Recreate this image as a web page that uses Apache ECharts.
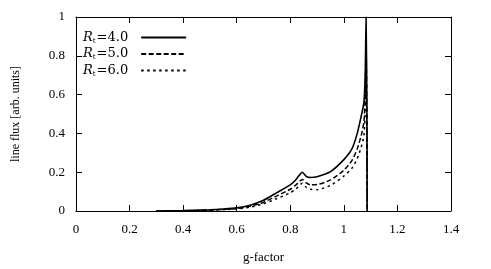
<!DOCTYPE html>
<html><head><meta charset="utf-8">
<script src="https://cdn.jsdelivr.net/npm/echarts@6/dist/echarts.min.js"></script>
<style>html,body{margin:0;padding:0;background:#fff}#c{width:491px;height:269px}</style>
</head><body><div id="c"></div>
<script>
const gFactor = [0.3, 0.4, 0.5, 0.55, 0.6, 0.65, 0.7, 0.75, 0.8, 0.82, 0.845, 0.86, 0.875, 0.9, 0.95, 1.0, 1.03, 1.05, 1.065, 1.075, 1.08, 1.083, 1.086, 1.087];
const fluxR4 = [0, 0.002, 0.006, 0.01, 0.016, 0.03, 0.055, 0.095, 0.135, 0.16, 0.2, 0.178, 0.173, 0.177, 0.203, 0.265, 0.32, 0.40, 0.49, 0.56, 0.72, 1.0, 0.5, 0];
const fluxR5 = [0, 0.0015, 0.005, 0.008, 0.013, 0.024, 0.045, 0.078, 0.112, 0.133, 0.163, 0.145, 0.135, 0.136, 0.16, 0.21, 0.26, 0.32, 0.39, 0.46, 0.6, 0.85, 0.45, 0];
const fluxR6 = [0, 0.001, 0.004, 0.007, 0.011, 0.02, 0.037, 0.064, 0.094, 0.112, 0.143, 0.122, 0.112, 0.11, 0.132, 0.18, 0.22, 0.27, 0.33, 0.39, 0.52, 0.72, 0.4, 0];
const seriesNames = ['4.0', '5.0', '6.0'];
const xTicks = [0, 0.2, 0.4, 0.6, 0.8, 1, 1.2, 1.4];
const yTicks = [0, 0.2, 0.4, 0.6, 0.8, 1];

const font = 'Liberation Serif';
const lfont = 'DejaVu Serif';
const pair = a => gFactor.map((g, i) => [g, a[i]]);
const chart = echarts.init(document.getElementById('c'));
const axisCommon = {
  axisLine: {show: true, onZero: false, lineStyle: {color: '#000', width: 1}},
  axisTick: {show: true, inside: true, length: 6, lineStyle: {color: '#000', width: 1}},
  splitLine: {show: false}
};
chart.setOption({
  animation: false,
  grid: {left: 76, right: 40, top: 17, bottom: 56},
  legend: {
    left: 78, top: 26, orient: 'vertical', align: 'right', itemGap: 3,
    itemWidth: 45, itemHeight: 14,
    itemStyle: {opacity: 0},
    data: seriesNames.map(n => 'R' + n),
    formatter: n => '{i|R}{s|t}{n|=' + n.slice(1) + '}',
    textStyle: {
      color: '#000', fontFamily: lfont, fontSize: 13, padding: [0, 8, 0, 0],
      rich: {
        i: {fontStyle: 'italic', fontSize: 13, fontFamily: lfont, color: '#000'},
        s: {fontSize: 7, fontFamily: lfont, color: '#000', padding: [7, 1, 0, 0]},
        n: {fontSize: 13, fontFamily: lfont, color: '#000'}
      }
    }
  },
  xAxis: [
    Object.assign({type: 'value', min: 0, max: 1.4, interval: 0.2, position: 'bottom',
      name: 'g-factor', nameLocation: 'middle', nameGap: 40,
      nameTextStyle: {fontFamily: font, fontSize: 13, color: '#000'},
      axisLabel: {fontFamily: font, fontSize: 13, color: '#000', margin: 12,
        formatter: v => String(xTicks.find(t => Math.abs(t - v) < 1e-9) ?? v)}}, axisCommon),
    Object.assign({type: 'value', min: 0, max: 1.4, interval: 0.2, position: 'top',
      axisLabel: {show: false}}, axisCommon)
  ],
  yAxis: [
    Object.assign({type: 'value', min: 0, max: 1, interval: 0.2, position: 'left',
      name: 'line flux [arb. units]', nameLocation: 'middle', nameGap: 54,
      nameTextStyle: {fontFamily: font, fontSize: 12, color: '#000'},
      axisLabel: {fontFamily: font, fontSize: 13, color: '#000', margin: 11,
        formatter: v => String(yTicks.find(t => Math.abs(t - v) < 1e-9) ?? v)}}, axisCommon),
    Object.assign({type: 'value', min: 0, max: 1, interval: 0.2, position: 'right',
      axisLabel: {show: false}}, axisCommon)
  ],
  series: [
    {name: 'R4.0', type: 'line', data: pair(fluxR4), symbol: 'none', smooth: 0.2,
      lineStyle: {color: '#000', width: 1.6, type: 'solid'}, itemStyle: {color: '#000'}},
    {name: 'R5.0', type: 'line', data: pair(fluxR5), symbol: 'none', smooth: 0.2,
      lineStyle: {color: '#000', width: 1.5, type: [5, 2.5]}, itemStyle: {color: '#000'}},
    {name: 'R6.0', type: 'line', data: pair(fluxR6), symbol: 'none', smooth: 0.2,
      lineStyle: {color: '#000', width: 1.5, type: [2.5, 3.5]}, itemStyle: {color: '#000'}}
  ]
});
</script></body></html>
